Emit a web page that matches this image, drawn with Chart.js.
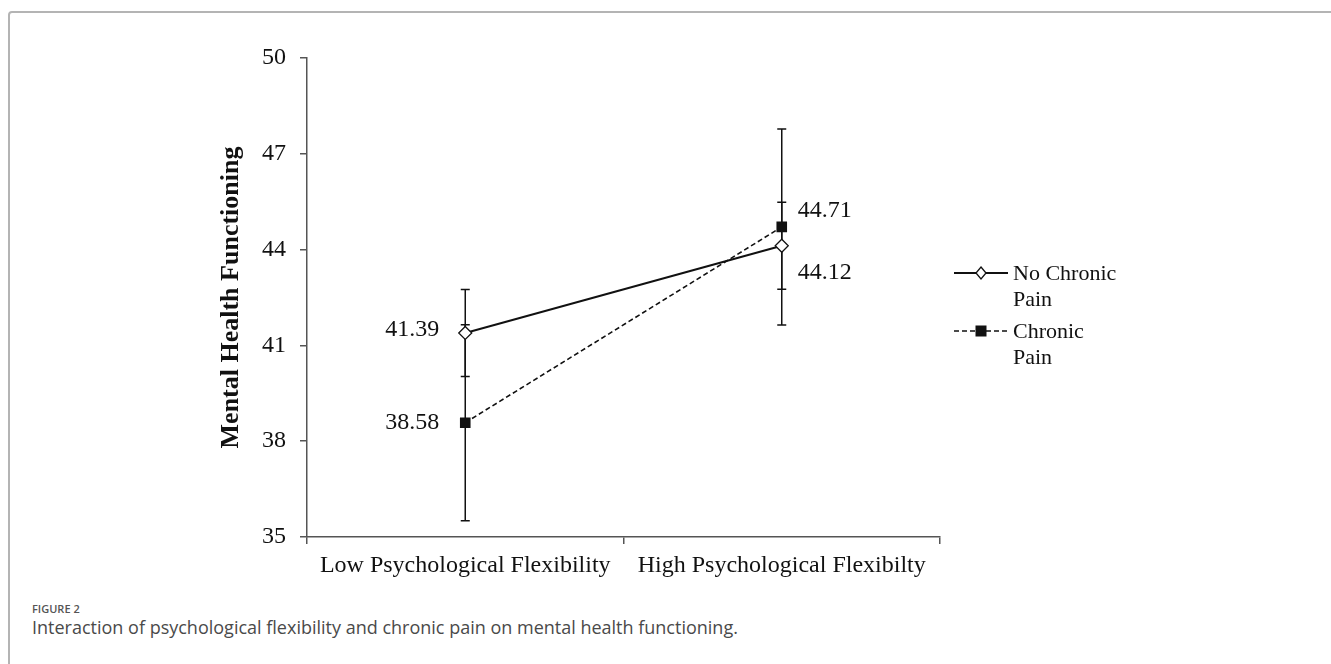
<!DOCTYPE html>
<html>
<head>
<meta charset="utf-8">
<script src="https://cdn.jsdelivr.net/npm/chart.js@4.4.1/dist/chart.umd.min.js"></script>
<style>
  html, body { margin: 0; padding: 0; background: #fff; width: 1331px; height: 664px; overflow: hidden; }
  .card { position: absolute; left: 8px; top: 11px; width: 1400px; height: 700px;
          border: 2px solid #b4b4b4; border-radius: 4px; box-sizing: border-box; }
  #chart { position: absolute; left: 0; top: 0; }
  .fig { position: absolute; left: 32px; top: 601px; font-family: "Open Sans", sans-serif;
         font-size: 11px; font-weight: 600; color: #555; }
  .caption { position: absolute; left: 32px; top: 615px; font-family: "Open Sans", sans-serif;
             font-size: 18px; color: #4a4a4a; }
</style>
</head>
<body>
<div class="card"></div>
<canvas id="chart" width="1331" height="600"></canvas>
<div class="fig">FIGURE 2</div>
<div class="caption">Interaction of psychological flexibility and chronic pain on mental health functioning.</div>
<script>
// categories and series
const categories = ['Low Psychological Flexibility', 'High Psychological Flexibilty'];
const noPainMeans = [41.39, 44.12];
const noPainErrors = [1.36, 1.36];
const painMeans = [38.58, 44.71];
const painErrors = [3.07, 3.07];
const seriesNames = ['No Chronic Pain', 'Chronic Pain'];
const yTicks = [35, 38, 41, 44, 47, 50];

const serif = '"Liberation Serif", "Times New Roman", serif';
const ink = '#111';

// where the value labels sit relative to each point [dx, dy, align]
const labelSpots = [
  [[-26, -3, 'right'], [16, 27, 'left']],
  [[-26, 0, 'right'], [16, -16, 'left']]
];

// error bars under the points
const errorBars = {
  id: 'errorBars',
  beforeDatasetsDraw(chart) {
    const ctx = chart.ctx;
    const y = chart.scales.y;
    chart.data.datasets.forEach((ds, di) => {
      const meta = chart.getDatasetMeta(di);
      meta.data.forEach((pt, i) => {
        const top = y.getPixelForValue(ds.data[i] + ds.errors[i]);
        const bot = y.getPixelForValue(ds.data[i] - ds.errors[i]);
        ctx.save();
        ctx.strokeStyle = ink;
        ctx.lineWidth = 1.5;
        ctx.beginPath();
        ctx.moveTo(pt.x, top); ctx.lineTo(pt.x, bot);
        ctx.moveTo(pt.x - 4.5, top); ctx.lineTo(pt.x + 4.5, top);
        ctx.moveTo(pt.x - 4.5, bot); ctx.lineTo(pt.x + 4.5, bot);
        ctx.stroke();
        ctx.restore();
      });
    });
  }
};

// value labels and the legend on the right
const extras = {
  id: 'extras',
  afterDraw(chart) {
    const ctx = chart.ctx;
    ctx.save();
    ctx.font = '24px ' + serif;
    ctx.fillStyle = ink;
    ctx.textBaseline = 'middle';
    chart.data.datasets.forEach((ds, di) => {
      const meta = chart.getDatasetMeta(di);
      meta.data.forEach((pt, i) => {
        const s = labelSpots[di][i];
        ctx.textAlign = s[2];
        ctx.fillText(ds.data[i].toFixed(2), pt.x + s[0], pt.y + s[1]);
      });
    });

    // legend
    ctx.font = '22px ' + serif;
    const lx = 954, tx = 1013;
    const rows = [273, 331];
    chart.data.datasets.forEach((ds, di) => {
      const yy = rows[di];
      ctx.strokeStyle = ink;
      ctx.lineWidth = ds.borderWidth;
      ctx.setLineDash(ds.borderDash || []);
      ctx.beginPath();
      ctx.moveTo(lx, yy); ctx.lineTo(lx + 54, yy);
      ctx.stroke();
      ctx.setLineDash([]);
      const mx = lx + 27;
      if (ds.pointStyle === 'rectRot') {
        ctx.fillStyle = '#fff';
        ctx.lineWidth = 1.3;
        ctx.beginPath();
        ctx.moveTo(mx, yy - 6); ctx.lineTo(mx + 5, yy); ctx.lineTo(mx, yy + 6); ctx.lineTo(mx - 5, yy);
        ctx.closePath(); ctx.fill(); ctx.stroke();
      } else {
        ctx.fillStyle = ink;
        ctx.fillRect(mx - 5.5, yy - 5.5, 11, 11);
      }
      ctx.fillStyle = ink;
      ctx.textAlign = 'left';
      const words = seriesNames[di].split(' ');
      const first = words.slice(0, -1).join(' ');
      ctx.fillText(first, tx, yy + 1);
      ctx.fillText(words[words.length - 1], tx, yy + 27);
    });
    ctx.restore();
  }
};

new Chart(document.getElementById('chart').getContext('2d'), {
  type: 'line',
  data: {
    labels: categories,
    datasets: [
      {
        label: seriesNames[0],
        data: noPainMeans,
        errors: noPainErrors,
        borderColor: ink,
        borderWidth: 2,
        pointStyle: 'rectRot',
        pointRadius: 6.5,
        pointBackgroundColor: '#fff',
        pointBorderColor: ink,
        pointBorderWidth: 1.3,
        tension: 0
      },
      {
        label: seriesNames[1],
        data: painMeans,
        errors: painErrors,
        borderColor: ink,
        borderWidth: 1.6,
        borderDash: [5, 3],
        pointStyle: 'rect',
        pointRadius: 7.5,
        pointBackgroundColor: ink,
        pointBorderColor: ink,
        pointBorderWidth: 0,
        tension: 0
      }
    ]
  },
  options: {
    responsive: false,
    animation: false,
    layout: { padding: { top: 58, right: 391, bottom: 0, left: 0 } },
    plugins: { legend: { display: false }, tooltip: { enabled: false } },
    scales: {
      x: {
        offset: true,
        afterFit(scale) { scale.height = 63; },
        grid: { offset: true, drawOnChartArea: false, drawTicks: true, tickLength: 7, color: '#555', lineWidth: 1.5 },
        border: { display: true, color: '#555', width: 1.5 },
        ticks: { font: { family: serif, size: 24 }, color: ink, padding: 7, maxRotation: 0 }
      },
      y: {
        min: yTicks[0],
        max: yTicks[yTicks.length - 1],
        afterFit(scale) { scale.width = 307; },
        afterBuildTicks(scale) { scale.ticks = yTicks.map(v => ({ value: v })); },
        grid: { drawOnChartArea: false, drawTicks: true, tickLength: 7, color: '#555', lineWidth: 1.5 },
        border: { display: true, color: '#555', width: 1.5 },
        ticks: { font: { family: serif, size: 24 }, color: ink, padding: 14 },
        title: {
          display: true,
          text: 'Mental Health Functioning',
          font: { family: serif, size: 26, weight: 'bold' },
          color: ink,
          padding: { top: 216, bottom: 0 }
        }
      }
    }
  },
  plugins: [errorBars, extras]
});
</script>
</body>
</html>
